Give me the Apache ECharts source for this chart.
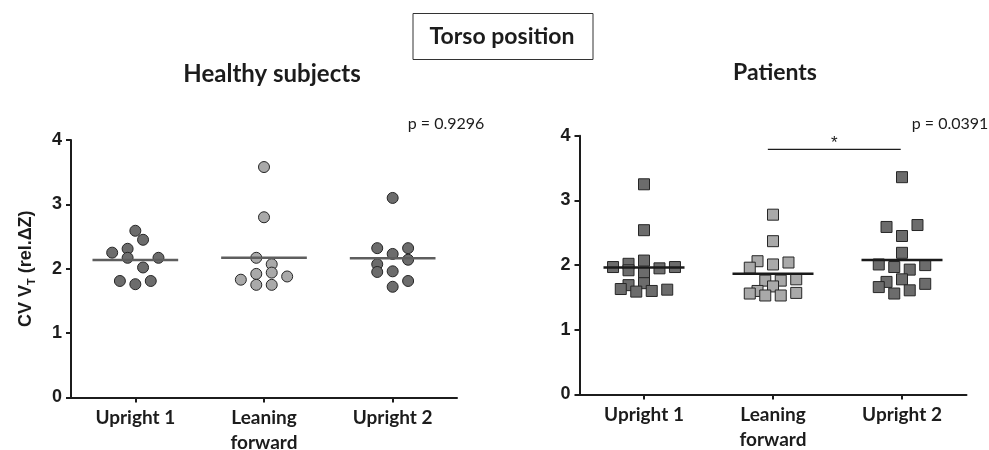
<!DOCTYPE html>
<html>
<head>
<meta charset="utf-8">
<script src="https://cdn.jsdelivr.net/npm/echarts@6/dist/echarts.min.js"></script>
<style>
  html, body { margin: 0; padding: 0; background: #fff; }
  #chart { width: 989px; height: 450px; }
</style>
</head>
<body>
<div id="chart"></div>
<script>
// Conditions along the x axis
const categories = ['Upright 1', 'Leaning\nforward', 'Upright 2'];
const yTicks = [0, 1, 2, 3, 4];

// Healthy subjects: CV of tidal volume per condition
const healthyUpright1 = [2.59, 2.45, 2.25, 2.31, 2.17, 2.17, 2.02, 1.81, 1.76, 1.81];
const healthyLeaning  = [3.58, 2.80, 2.17, 2.07, 1.92, 1.94, 1.83, 1.88, 1.75, 1.75];
const healthyUpright2 = [3.10, 2.32, 2.32, 2.23, 2.14, 2.07, 1.95, 1.96, 1.81, 1.72];
// column slots of the dot-plot layout (one slot = one symbol step)
const healthyUpright1Slot = [0, 1, -3, -1, -1, 3, 1, -2, 0, 2];
const healthyLeaningSlot  = [0, 0, -1, 1, -1, 1, -3, 3, -1, 1];
const healthyUpright2Slot = [0, -2, 2, 0, 2, -2, -2, 0, 2, 0];

// Patients
const patientsUpright1 = [3.25, 2.54, 2.07, 2.02, 1.97, 1.92, 1.95, 1.97, 1.88, 1.69, 1.72, 1.63, 1.59, 1.60, 1.62];
const patientsLeaning  = [2.78, 2.37, 2.06, 1.96, 2.01, 2.04, 1.76, 1.76, 1.78, 1.67, 1.60, 1.56, 1.53, 1.53, 1.57];
const patientsUpright2 = [3.36, 2.62, 2.59, 2.45, 2.19, 2.01, 2.00, 1.97, 1.93, 1.78, 1.74, 1.66, 1.71, 1.61, 1.56];
const patientsUpright1Slot = [0, 0, 0, -2, -4, -2, 2, 4, 0, -2, 0, -3, -1, 1, 3];
const patientsLeaningSlot  = [0, 0, -2, -3, 0, 2, -1, 1, 3, 0, -2, -3, -1, 1, 3];
const patientsUpright2Slot = [0, 2, -2, 0, 0, -3, 3, -1, 1, 0, -2, -3, 3, 1, -1];

// Statistics shown on the panels
const pHealthy = 'p = 0.9296';
const pPatients = 'p = 0.0391';
const sigPair = [1, 2];       // Leaning forward vs Upright 2
const sigLevel = 3.79;

const SLOT = 0.06;
const DARK = '#6c6c6c';
const LIGHT = '#a9a9a9';
const INK = '#1c1c1c';
const TICK_FONT = '"Liberation Sans", Arial, sans-serif';
const TEXT_FONT = 'Lato, "Open Sans", sans-serif';

const mean = arr => arr.reduce((s, v) => s + v, 0) / arr.length;
const points = (vals, slots, idx) => vals.map((v, i) => [idx + slots[i] * SLOT, v]);

function grid(left, top, width, height) {
  return { left, top, width, height, containLabel: false, outerBoundsMode: 'none' };
}

// visible category axis (labels and ticks) for grid g
function catAxis(g) {
  return {
    type: 'category', gridIndex: g, data: categories, boundaryGap: true,
    axisLine: { show: true, onZero: false, lineStyle: { color: INK, width: 2 } },
    axisTick: { show: true, alignWithLabel: true, length: 5, lineStyle: { color: INK, width: 2 } },
    axisLabel: { color: INK, fontFamily: TEXT_FONT, fontWeight: 'bold', fontSize: 19, lineHeight: 25, margin: 8 },
    splitLine: { show: false }
  };
}
// hidden numeric axis that places the symbols inside each category band
function posAxis(g) {
  return { type: 'value', gridIndex: g, min: -0.5, max: 2.5, show: false };
}
function valAxis(g, withName) {
  const ax = {
    type: 'value', gridIndex: g, min: yTicks[0], max: yTicks[yTicks.length - 1], interval: 1,
    axisLine: { show: true, onZero: false, lineStyle: { color: INK, width: 2 } },
    axisTick: { show: true, length: 5, lineStyle: { color: INK, width: 2 } },
    axisLabel: { color: INK, fontFamily: TICK_FONT, fontWeight: 'bold', fontSize: 18, margin: 9 },
    splitLine: { show: false }
  };
  if (withName) {
    ax.name = '{a|CV V}{b|T}{a| (rel.ΔZ)}';
    ax.nameLocation = 'middle';
    ax.nameGap = 34;
    ax.nameTextStyle = {
      rich: {
        a: { fontFamily: TICK_FONT, fontWeight: 'bold', fontSize: 18, color: INK, lineHeight: 22 },
        b: { fontFamily: TICK_FONT, fontWeight: 'bold', fontSize: 11, color: INK, lineHeight: 22, verticalAlign: 'bottom', padding: [8, 0, 0, 0] }
      }
    };
  }
  return ax;
}

function dots(g, data, symbol, color) {
  return {
    type: 'scatter', xAxisIndex: g + 2, yAxisIndex: g, data,
    symbol, symbolSize: 11, z: 3,
    itemStyle: { color, borderColor: '#262626', borderWidth: 1, opacity: 1 },
    emphasis: { disabled: true }, silent: true
  };
}

function meanLines(g, groups, half, color) {
  return {
    type: 'custom', xAxisIndex: g + 2, yAxisIndex: g, z: 4, silent: true,
    data: groups.map((vals, i) => [i, mean(vals)]),
    renderItem: (params, api) => {
      const i = api.value(0), m = api.value(1);
      const a = api.coord([i - half, m]);
      const b = api.coord([i + half, m]);
      return { type: 'line', shape: { x1: a[0], y1: a[1], x2: b[0], y2: b[1] },
               style: { stroke: color, lineWidth: 2.5 } };
    }
  };
}

const option = {
  animation: false,
  backgroundColor: '#fff',
  grid: [grid(71, 140, 386, 257.5), grid(579.5, 135.8, 387, 258.6)],
  xAxis: [catAxis(0), catAxis(1), posAxis(0), posAxis(1)],
  yAxis: [valAxis(0, true), valAxis(1, false)],
  series: [
    dots(0, points(healthyUpright1, healthyUpright1Slot, 0), 'circle', DARK),
    dots(0, points(healthyLeaning, healthyLeaningSlot, 1), 'circle', LIGHT),
    dots(0, points(healthyUpright2, healthyUpright2Slot, 2), 'circle', DARK),
    dots(1, points(patientsUpright1, patientsUpright1Slot, 0), 'rect', DARK),
    dots(1, points(patientsLeaning, patientsLeaningSlot, 1), 'rect', LIGHT),
    dots(1, points(patientsUpright2, patientsUpright2Slot, 2), 'rect', DARK),
    meanLines(0, [healthyUpright1, healthyLeaning, healthyUpright2], 0.333, '#5e5e5e'),
    meanLines(1, [patientsUpright1, patientsLeaning, patientsUpright2], 0.314, '#1a1a1a'),
    {
      // significance bar between two conditions
      type: 'custom', xAxisIndex: 3, yAxisIndex: 1, silent: true, z: 4,
      data: [[sigPair[0], sigPair[1], sigLevel]],
      renderItem: (params, api) => {
        const a = api.coord([api.value(0) - 0.04, api.value(2)]);
        const b = api.coord([api.value(1) - 0.01, api.value(2)]);
        return { type: 'group', children: [
          { type: 'line', shape: { x1: a[0], y1: a[1], x2: b[0], y2: b[1] }, style: { stroke: INK, lineWidth: 1.2 } },
          { type: 'text', x: (a[0] + b[0]) / 2, y: a[1] + 2,
            style: { text: '*', font: '17px ' + TICK_FONT, fill: INK, textAlign: 'center', textVerticalAlign: 'bottom' } }
        ]};
      }
    }
  ],
  graphic: [
    { type: 'rect', shape: { x: 413, y: 13.5, width: 180, height: 46 },
      style: { fill: '#fff', stroke: '#333', lineWidth: 1 } },
    { type: 'text', x: 502, y: 37,
      style: { text: 'Torso position', font: 'bold 23px ' + TEXT_FONT, fill: INK, textAlign: 'center', textVerticalAlign: 'middle' } },
    { type: 'text', x: 272, y: 74,
      style: { text: 'Healthy subjects', font: 'bold 24px ' + TEXT_FONT, fill: INK, textAlign: 'center', textVerticalAlign: 'middle' } },
    { type: 'text', x: 775, y: 73,
      style: { text: 'Patients', font: 'bold 23px ' + TEXT_FONT, fill: INK, textAlign: 'center', textVerticalAlign: 'middle' } },
    { type: 'text', x: 446, y: 124,
      style: { text: pHealthy, font: '16px ' + TEXT_FONT, fill: INK, textAlign: 'center', textVerticalAlign: 'middle' } },
    { type: 'text', x: 950, y: 124,
      style: { text: pPatients, font: '16px ' + TEXT_FONT, fill: INK, textAlign: 'center', textVerticalAlign: 'middle' } }
  ]
};

const chart = echarts.init(document.getElementById('chart'), null, { renderer: 'canvas' });
chart.setOption(option);
</script>
</body>
</html>
